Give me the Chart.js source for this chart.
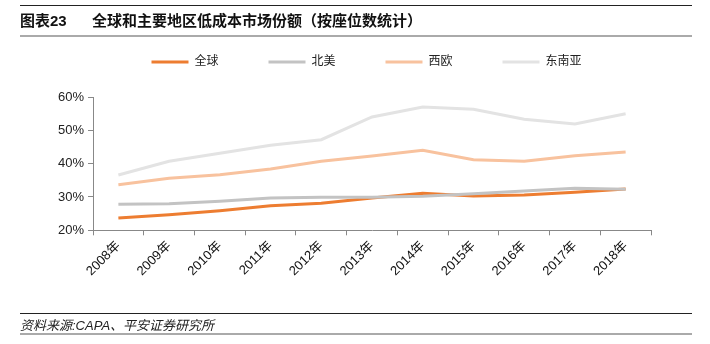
<!DOCTYPE html>
<html>
<head>
<meta charset="utf-8">
<script src="https://cdn.jsdelivr.net/npm/chart.js@4"></script>
<style>
  body { margin: 0; background: #fff; font-family: "Liberation Sans", "Noto Sans CJK SC", sans-serif; }
  #wrap { position: relative; width: 710px; height: 344px; overflow: hidden; }
  #myChart { position: absolute; left: 0; top: 0; }
  .rule { position: absolute; left: 20px; width: 672px; }
  .title { position: absolute; top: 9px; font-size: 15px; font-weight: bold; color: #111; white-space: pre; }
  #source { position: absolute; left: 20px; top: 315px; font-size: 13px; font-style: italic; color: #222; }
</style>
</head>
<body>
<div id="wrap">
  <canvas id="myChart" width="710" height="344"></canvas>
  <div class="rule" style="top:5px;border-top:1px solid #222;"></div>
  <div class="title" style="left:20px;">图表23</div>
  <div class="title" style="left:92px;">全球和主要地区低成本市场份额（按座位数统计）</div>
  <div class="rule" style="top:35px;border-top:2px solid #aaa;"></div>
  <div class="rule" style="top:313px;border-top:1px solid #222;"></div>
  <div id="source">资料来源:CAPA、平安证券研究所</div>
  <div class="rule" style="top:333px;border-top:2px solid #aaa;"></div>
</div>
<script>
var years = ["2008年", "2009年", "2010年", "2011年", "2012年", "2013年", "2014年", "2015年", "2016年", "2017年", "2018年"];
var global = [23.7, 24.7, 25.9, 27.4, 28.1, 29.7, 31.1, 30.3, 30.6, 31.4, 32.4];
var northAmerica = [27.8, 28.0, 28.7, 29.7, 29.9, 29.9, 30.2, 31.0, 31.8, 32.6, 32.3];
var westEurope = [33.7, 35.6, 36.7, 38.4, 40.7, 42.3, 44.0, 41.2, 40.7, 42.4, 43.5];
var seAsia = [36.6, 40.7, 43.1, 45.5, 47.2, 54.0, 57.0, 56.3, 53.3, 51.9, 55.0];
var yTicks = [20, 30, 40, 50, 60];

var font = "'Liberation Sans', 'Noto Sans CJK SC', sans-serif";

function series(label, values, color, order) {
  return {
    label: label,
    data: values,
    borderColor: color,
    backgroundColor: color,
    borderWidth: 3,
    pointRadius: 0,
    tension: 0,
    order: order
  };
}

// legend padding is wide for horizontal spacing, so trim its height
// and nudge it a bit to the right like the original
var legendTweak = {
  id: "legendTweak",
  beforeInit: function (chart) {
    var fit = chart.legend.fit;
    chart.legend.fit = function () {
      fit.bind(chart.legend)();
      this.height = 91;
    };
  },
  afterLayout: function (chart) {
    chart.legend.left += 14;
    chart.legend.right += 14;
  }
};

var ctx = document.getElementById("myChart").getContext("2d");
var myChart = new Chart(ctx, {
  type: "line",
  data: {
    labels: years,
    datasets: [
      series("全球", global, "#ED7D31", 2),
      series("北美", northAmerica, "#C3C3C3", 1),
      series("西欧", westEurope, "#F8C29E", 3),
      series("东南亚", seAsia, "#E3E3E3", 4)
    ]
  },
  options: {
    responsive: false,
    animation: false,
    layout: { padding: { left: 54, right: 59, top: 6, bottom: 62 } },
    scales: {
      x: {
        offset: true,
        grid: { offset: true, drawOnChartArea: false, tickLength: 5, color: "#888" },
        border: { color: "#888" },
        ticks: {
          maxRotation: 45,
          minRotation: 45,
          color: "#111",
          font: { family: font, size: 13 }
        }
      },
      y: {
        min: 20,
        max: 60,
        afterBuildTicks: function (axis) {
          axis.ticks = yTicks.map(function (v) { return { value: v }; });
        },
        grid: { drawOnChartArea: false, tickLength: 5, color: "#888" },
        border: { color: "#888" },
        ticks: {
          color: "#222",
          padding: 4,
          font: { family: font, size: 13 },
          callback: function (v) { return v + "%"; }
        }
      }
    },
    plugins: {
      legend: {
        display: true,
        position: "top",
        labels: {
          boxWidth: 37,
          boxHeight: 3,
          padding: 50,
          color: "#222",
          font: { family: font, size: 12 },
          sort: function (a, b) { return a.datasetIndex - b.datasetIndex; },
          generateLabels: function (chart) {
            var items = Chart.defaults.plugins.legend.labels.generateLabels(chart);
            items.forEach(function (it) { it.lineWidth = 0; });
            return items;
          }
        }
      },
      tooltip: { enabled: false }
    }
  },
  plugins: [legendTweak]
});
</script>
</body>
</html>
